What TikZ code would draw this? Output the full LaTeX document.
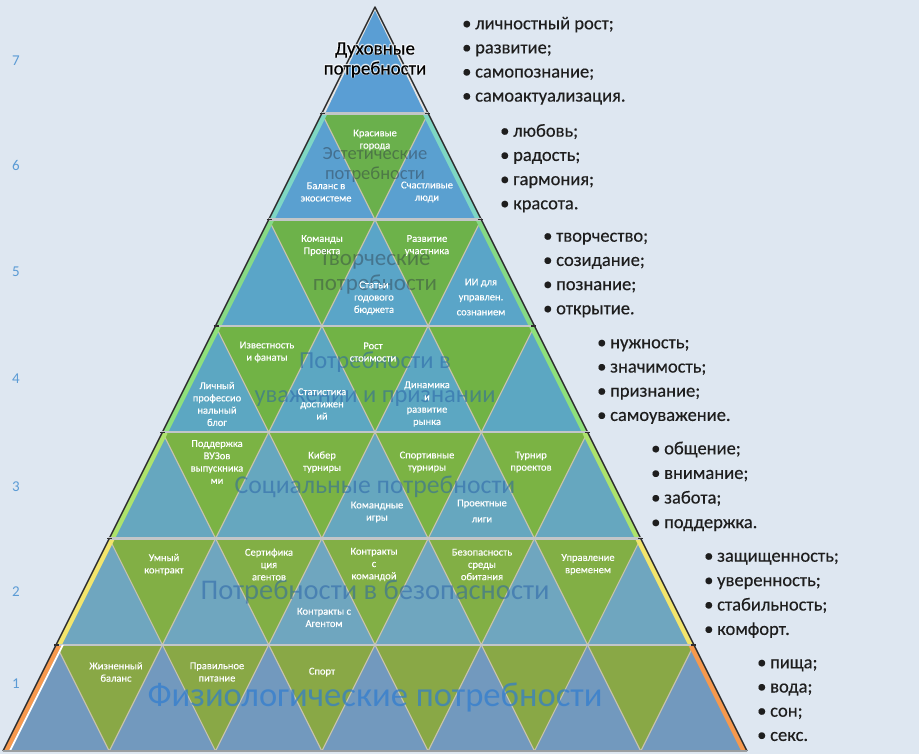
\documentclass[tikz,border=0pt]{standalone}
\usepackage{fontspec}
\setmainfont{Carlito}
\newfontfamily\heavyfont[FakeBold=0.35]{Carlito}
\definecolor{bgc}{HTML}{DEE7F1}
\definecolor{b7}{HTML}{5A9ED4}
\definecolor{b6}{HTML}{5AA0D0}\definecolor{g6}{HTML}{6AB04C}\definecolor{s6}{HTML}{7ED6C4}
\definecolor{b5}{HTML}{5AA5C8}\definecolor{g5}{HTML}{6DB24A}\definecolor{s5}{HTML}{86DA86}
\definecolor{b4}{HTML}{5CA7C2}\definecolor{g4}{HTML}{71B345}\definecolor{s4}{HTML}{8EE07C}
\definecolor{b3}{HTML}{66A7BF}\definecolor{g3}{HTML}{7BB344}\definecolor{s3}{HTML}{ADE36C}
\definecolor{b2}{HTML}{6FA6BF}\definecolor{g2}{HTML}{82AF45}\definecolor{s2}{HTML}{F2E56C}
\definecolor{b1}{HTML}{7299BE}\definecolor{g1}{HTML}{89A846}\definecolor{s1}{HTML}{F6994E}
\definecolor{edgec}{HTML}{C9C3AE}
\definecolor{sepc}{HTML}{C2C6C8}
\definecolor{outc}{HTML}{2E2E2E}
\definecolor{numc}{HTML}{5B9BD5}
\definecolor{txtc}{HTML}{1E1E1E}
\definecolor{lblgray}{HTML}{2A3440}
\definecolor{lblblue}{HTML}{2A64A8}
\definecolor{lblphys}{HTML}{2E7CD0}
\begin{document}
\begin{tikzpicture}[x=1pt,y=-1pt,
  item/.style={text=white,font=\heavyfont\fontsize{10.5}{12.3}\selectfont,align=center,inner sep=0pt},
  bul/.style={anchor=base west,font=\heavyfont\fontsize{18.5}{20}\selectfont,text=txtc,inner sep=0pt},
  num/.style={anchor=base west,text=numc,font=\fontsize{15}{16}\selectfont,inner sep=0pt},
  biglbl/.style={align=center,inner sep=0pt},
  tri/.style={draw=edgec,line width=1.1pt,line join=round}
]
\useasboundingbox (0,0) rectangle (919,754);
\fill[bgc] (0,0) rectangle (919,754);

% level 7 (apex)
\fill[b7] (375,7) -- (428.15,113.3) -- (321.85,113.3) -- cycle;
\begin{scope}
  \clip (375,7) -- (428.15,113.3) -- (321.85,113.3) -- cycle;
  \draw[white!80!gray,line width=3pt] (375,7) -- (321.85+1.5,113.3);
  \draw[white!80!gray,line width=3pt] (375,7) -- (428.15-1.5,113.3);
\end{scope}
\draw[outc,line width=1.4pt,line join=round] (321.85,113.3) -- (375,7) -- (428.15,113.3);

% levels 6 .. 1
\foreach \r/\bc/\gc/\sc in {1/b6/g6/s6,2/b5/g5/s5,3/b4/g4/s4,4/b3/g3/s3,5/b2/g2/s2,6/b1/g1/s1}{
  \pgfmathsetmacro\yt{7+106.3*\r}
  \pgfmathsetmacro\yb{7+106.3*(\r+1)}
  \pgfmathsetmacro\xtl{375-53.15*\r}
  \pgfmathsetmacro\xtr{375+53.15*\r}
  \pgfmathsetmacro\xbl{375-53.15*(\r+1)}
  \pgfmathsetmacro\xbr{375+53.15*(\r+1)}
  \fill[\bc] (\xtl,\yt) -- (\xtr,\yt) -- (\xbr,\yb) -- (\xbl,\yb) -- cycle;
  \foreach \k in {1,...,\r}{
    \pgfmathsetmacro\xa{375+53.15*(2*\k-2-\r)}
    \pgfmathsetmacro\xc{375+53.15*(2*\k-\r)}
    \pgfmathsetmacro\xm{375+53.15*(2*\k-1-\r)}
    \filldraw[fill=\gc,tri] (\xa,\yt) -- (\xc,\yt) -- (\xm,\yb) -- cycle;
  }
  \begin{scope}
    \clip (\xtl,\yt) -- (\xtr,\yt) -- (\xbr,\yb) -- (\xbl,\yb) -- cycle;
    \draw[\sc,line width=6pt] (\xtl+2.5,\yt) -- (\xbl+2.5,\yb);
    \draw[\sc,line width=6pt] (\xtr-2.5,\yt) -- (\xbr-2.5,\yb);
  \end{scope}
  \draw[sepc,line width=2.5pt] (\xtl,\yt) -- (\xtr,\yt);
  \draw[outc,line width=1.4pt] (\xtl-2,\yt) -- (\xtl+3,\yt);
  \draw[outc,line width=1.4pt] (\xtr-3,\yt) -- (\xtr+2,\yt);
  \draw[outc,line width=1.4pt] (\xtl,\yt) -- (\xbl,\yb);
  \draw[outc,line width=1.4pt] (\xtr,\yt) -- (\xbr,\yb);
}
% white highlight inside level 1 left edge
\begin{scope}
  \clip (56.1,644.8) -- (693.9,644.8) -- (747.05,751.1) -- (2.95,751.1) -- cycle;
  \draw[white,line width=1.8pt] (56.1+6.8,644.8) -- (2.95+6.8,751.1);
\end{scope}
\draw[sepc!80!black,line width=2pt] (2.95,751.1) -- (747.05,751.1);

% big level labels
\foreach \dx/\dy [count=\g] in {-1/0,1/0,0/-1,0/1,-0.8/-0.8,0.8/0.8,-0.8/0.8,0.8/-0.8}
  \node[biglbl,text=white,text opacity=0.45,font=\fontsize{19}{20}\selectfont] (glow\g) at (375+\dx,60+\dy) {Духовные\\потребности};
\node[biglbl,text=black,font=\heavyfont\fontsize{19}{20}\selectfont] (L7) at (375,60) {Духовные\\потребности};
\node[biglbl,text=lblgray,text opacity=0.45,font=\fontsize{18.5}{20}\selectfont] (L6) at (375,165) {Эстетические\\потребности};
\node[biglbl,text=lblgray,text opacity=0.42,font=\fontsize{23}{25}\selectfont] (L5) at (375,272.5) {Творческие\\потребности};
\node[biglbl,text=lblblue,text opacity=0.55,font=\fontsize{24.5}{34}\selectfont] (L4) at (375,379) {Потребности в\\уважении и признании};
\node[biglbl,text=lblblue,text opacity=0.55,font=\fontsize{25.7}{28}\selectfont] (L3) at (375,487) {Социальные потребности};
\node[biglbl,text=lblblue,text opacity=0.55,font=\fontsize{28.5}{30}\selectfont] (L2) at (375,592) {Потребности в безопасности};
\node[biglbl,text=lblphys,text opacity=0.7,font=\fontsize{34.6}{36}\selectfont] (L1) at (375,698) {Физиологические потребности};

% items in the triangles
\node[item] (i61) at (375,140) {Красивые\\города};
\node[item] (i62) at (326,192) {Баланс в\\экосистеме};
\node[item] (i63) at (427,192) {Счастливые\\люди};

\node[item] (i51) at (322,245.5) {Команды\\Проекта};
\node[item] (i52) at (427,245.5) {Развитие\\участника};
\node[item] (i53) at (374,298) {Статьи\\годового\\бюджета};
\node[item,font=\heavyfont\fontsize{10.5}{15}\selectfont] (i54) at (481,297) {ИИ для\\управлен.\\сознанием};

\node[item] (i41) at (267,352) {Известность\\и фанаты};
\node[item] (i42) at (373,352) {Рост\\стоимости};
\node[item] (i43) at (217,404) {Личный\\профессио\\нальный\\блог};
\node[item] (i44) at (322,404) {Статистика\\достижен\\ий};
\node[item] (i45) at (427,404) {Динамика\\и\\развитие\\рынка};

\node[item] (i31) at (217,462) {Поддержка\\ВУЗов\\выпускника\\ми};
\node[item] (i32) at (322,462) {Кибер\\турниры};
\node[item] (i33) at (427,462) {Спортивные\\турниры};
\node[item] (i34) at (531,462) {Турнир\\проектов};
\node[item] (i35) at (377,512) {Командные\\игры};
\node[item,font=\heavyfont\fontsize{10.5}{16}\selectfont] (i36) at (482,511) {Проектные\\лиги};

\node[item] (i21) at (164,564.5) {Умный\\контракт};
\node[item] (i22) at (269,564.5) {Сертифика\\ция\\агентов};
\node[item] (i23) at (374,564.5) {Контракты\\с\\командой};
\node[item] (i24) at (482,564.5) {Безопасность\\среды\\обитания};
\node[item] (i25) at (588,564.5) {Управление\\временем};
\node[item] (i26) at (324,617.5) {Контракты с\\Агентом};

\node[item] (i11) at (116,672) {Жизненный\\баланс};
\node[item] (i12) at (217,672) {Правильное\\питание};
\node[item] (i13) at (322,672) {Спорт};

% level numbers
\foreach \n/\y in {7/66,6/171,5/277,4/383,3/491,2/596,1/688}
  \node[num] (n\n) at (12,\y) {\n};

% bullet lists
\foreach \t [count=\i] in {личностный рост;,развитие;,самопознание;,самоактуализация.}
  \node[bul] (a7\i) at (462,{29.3+24.1*(\i-1)}) {\makebox[13pt][l]{•}\t};
\foreach \t [count=\i] in {любовь;,радость;,гармония;,красота.}
  \node[bul] (a6\i) at (500,{136.7+24.2*(\i-1)}) {\makebox[13pt][l]{•}\t};
\foreach \t [count=\i] in {творчество;,созидание;,познание;,открытие.}
  \node[bul] (a5\i) at (543,{241.7+24.2*(\i-1)}) {\makebox[13pt][l]{•}\t};
\foreach \t [count=\i] in {нужность;,значимость;,признание;,самоуважение.}
  \node[bul] (a4\i) at (597,{348.3+24.2*(\i-1)}) {\makebox[13pt][l]{•}\t};
\foreach \t [count=\i] in {общение;,внимание;,забота;,поддержка.}
  \node[bul] (a3\i) at (651,{454.3+24.6*(\i-1)}) {\makebox[13pt][l]{•}\t};
\foreach \t [count=\i] in {защищенность;,уверенность;,стабильность;,комфорт.}
  \node[bul] (a2\i) at (704,{561.7+24.4*(\i-1)}) {\makebox[13pt][l]{•}\t};
\foreach \t [count=\i] in {пища;,вода;,сон;,секс.}
  \node[bul] (a1\i) at (757,{668.3+24.2*(\i-1)}) {\makebox[13pt][l]{•}\t};
\end{tikzpicture}
\end{document}
